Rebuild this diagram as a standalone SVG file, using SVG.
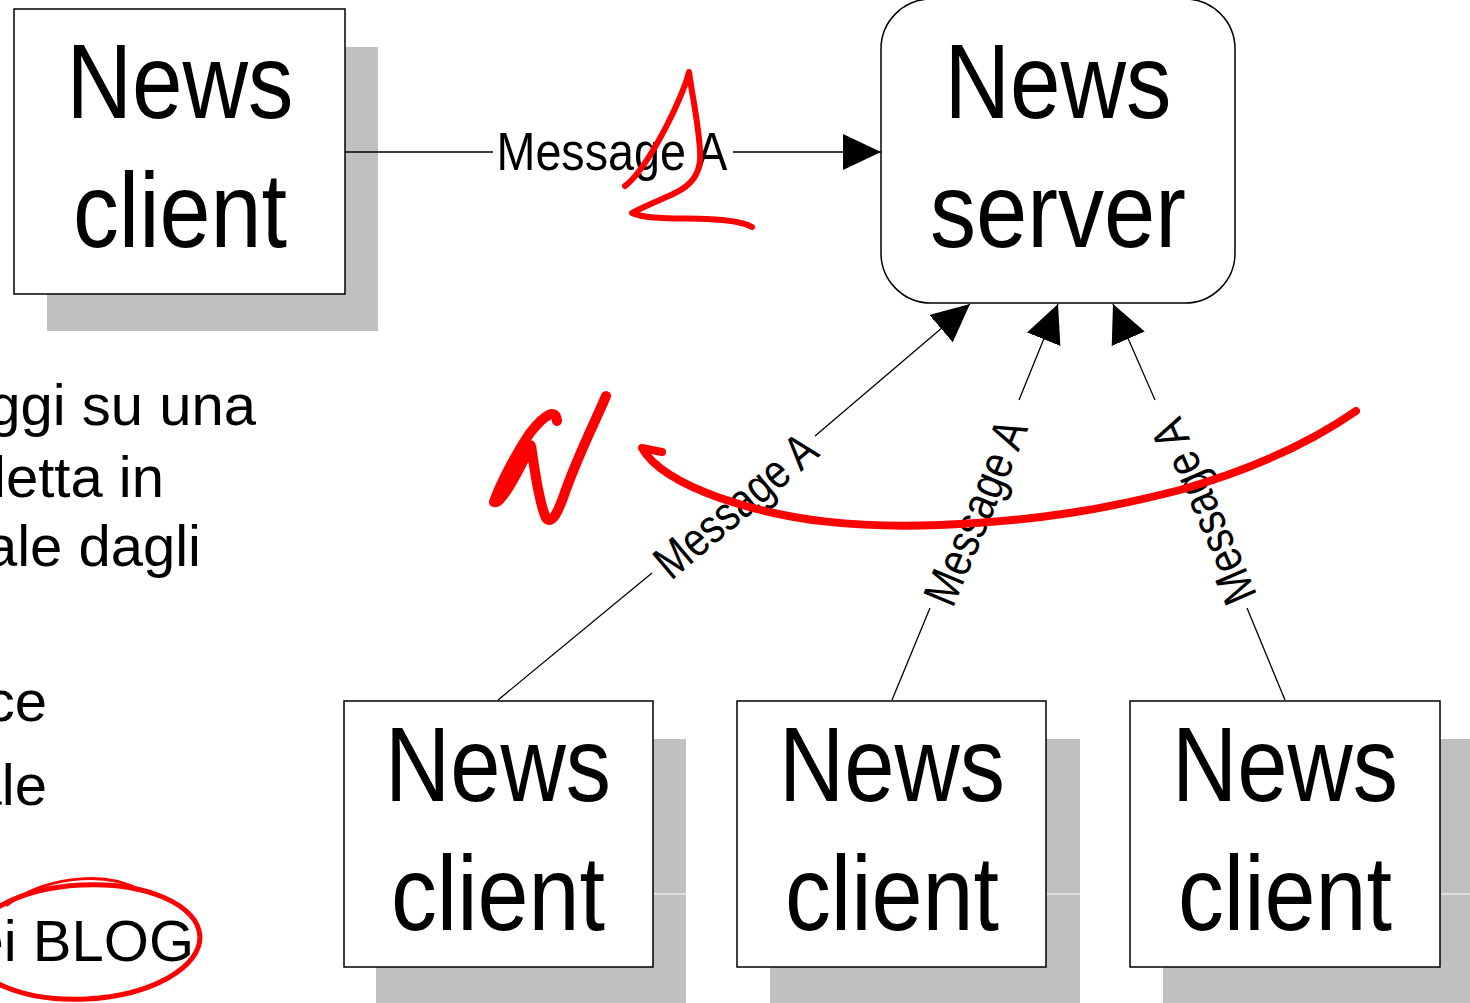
<svg xmlns="http://www.w3.org/2000/svg" width="1470" height="1003" viewBox="0 0 1470 1003">
  <defs>
    <style>
      .shadow { fill: #c0c0c0; }
      .box { fill: #ffffff; stroke: #000000; stroke-width: 1.5; }
      .big { font-family: "Liberation Sans", Arial, sans-serif; font-size: 106px; fill: #000; text-anchor: middle; }
      .lbl { font-family: "Liberation Sans", Arial, sans-serif; font-size: 53px; fill: #000; text-anchor: middle; }
      .rlbl { font-family: "Liberation Sans", Arial, sans-serif; font-size: 48px; fill: #000; text-anchor: middle; }
      .body { font-family: "Liberation Sans", Arial, sans-serif; font-size: 58px; fill: #000; text-anchor: end; }
      .edge { stroke: #000; stroke-width: 1.3; fill: none; }
      .ink { fill: none; stroke: #ff0000; stroke-linecap: round; stroke-linejoin: round; }
      .seam { stroke: #ffffff; stroke-width: 1; }
    </style>
    <marker id="arrow" markerUnits="userSpaceOnUse" markerWidth="42" markerHeight="40" refX="38" refY="18" orient="auto">
      <path d="M0,0 L38,18 L0,36 z" fill="#000"/>
    </marker>
  </defs>

  <rect width="1470" height="1003" fill="#ffffff"/>

  <!-- partially visible slide text on the left -->
  <g id="slide-text">
    <text class="body" x="256" y="425">ggi su una</text>
    <text class="body" x="164" y="497">letta in</text>
    <text class="body" x="201" y="566">ale dagli</text>
    <text class="body" x="47" y="721">ce</text>
    <text class="body" x="47" y="805">ale</text>
    <text class="body" x="194" y="961">ei BLOG</text>
  </g>

  <!-- news client (top left) -->
  <g id="client-top">
    <rect class="shadow" x="47" y="47" width="331" height="284"/>
    <rect class="box" x="14" y="9" width="331" height="285"/>
    <text class="big" x="180" y="118" textLength="227" lengthAdjust="spacingAndGlyphs">News</text>
    <text class="big" x="180" y="247" textLength="214" lengthAdjust="spacingAndGlyphs">client</text>
  </g>

  <!-- news server -->
  <g id="server">
    <rect class="box" x="881" y="-1" width="354" height="304" rx="50" ry="50"/>
    <text class="big" x="1058" y="118" textLength="227" lengthAdjust="spacingAndGlyphs">News</text>
    <text class="big" x="1058" y="247" textLength="256" lengthAdjust="spacingAndGlyphs">server</text>
  </g>

  <!-- news clients (bottom row) -->
  <g id="client-1">
    <rect class="shadow" x="376" y="739" width="310" height="270"/>
    <line class="seam" x1="654" y1="894" x2="686" y2="894"/>
    <rect class="box" x="344" y="701" width="309" height="266"/>
    <text class="big" x="498" y="801" textLength="226" lengthAdjust="spacingAndGlyphs">News</text>
    <text class="big" x="498" y="930" textLength="214" lengthAdjust="spacingAndGlyphs">client</text>
  </g>
  <g id="client-2">
    <rect class="shadow" x="770" y="739" width="310" height="270"/>
    <line class="seam" x1="1047" y1="894" x2="1080" y2="894"/>
    <rect class="box" x="737" y="701" width="309" height="266"/>
    <text class="big" x="892" y="801" textLength="226" lengthAdjust="spacingAndGlyphs">News</text>
    <text class="big" x="892" y="930" textLength="214" lengthAdjust="spacingAndGlyphs">client</text>
  </g>
  <g id="client-3">
    <rect class="shadow" x="1163" y="739" width="310" height="270"/>
    <line class="seam" x1="1441" y1="894" x2="1470" y2="894"/>
    <rect class="box" x="1130" y="701" width="310" height="266"/>
    <text class="big" x="1285" y="801" textLength="226" lengthAdjust="spacingAndGlyphs">News</text>
    <text class="big" x="1285" y="930" textLength="214" lengthAdjust="spacingAndGlyphs">client</text>
  </g>

  <!-- connectors, drawn over the node shadows -->
  <g id="connectors">
    <path class="edge" d="M345,152 H493 M733,152 H881" marker-end="url(#arrow)"/>
    <text class="lbl" x="612" y="170" textLength="231" lengthAdjust="spacingAndGlyphs">Message A</text>

    <path class="edge" d="M498,700 L652,573"/>
    <path class="edge" d="M815,436 L970,304" marker-end="url(#arrow)"/>
    <text class="rlbl" transform="translate(735,505) rotate(-40.1)" x="0" y="17" textLength="196" lengthAdjust="spacingAndGlyphs">Message A</text>

    <path class="edge" d="M892,700 L930,608"/>
    <path class="edge" d="M1019,400 L1058,304" marker-end="url(#arrow)"/>
    <text class="rlbl" transform="translate(975,512) rotate(-67.3)" x="0" y="17" textLength="196" lengthAdjust="spacingAndGlyphs">Message A</text>

    <path class="edge" d="M1285,700 L1247,608"/>
    <path class="edge" d="M1155,400 L1113,304" marker-end="url(#arrow)"/>
    <text class="rlbl" transform="translate(1203,512) rotate(-113.4)" x="0" y="17" textLength="196" lengthAdjust="spacingAndGlyphs">Message A</text>
  </g>

  <!-- red pen marks -->
  <g id="ink">
    <path class="ink" stroke-width="6" d="M625,186 C640,175 660,140 672,115 C680,98 686,85 689,72 C692,95 698,120 700,150 C702,172 693,185 673,194 C658,201 642,207 632,213 C645,219 672,218 707,219 C730,220 745,223 752,227"/>
    <path class="ink" stroke-width="10" d="M557,421 C556,408 545,414 530,433 C515,455 500,485 494,502 C500,505 515,478 526,455 C531,445 531,441 532,452 C536,480 540,505 546,518 C552,525 558,512 564,495 C578,455 596,420 606,396"/>
    <path class="ink" stroke-width="8" d="M662,452 L642,448 C652,466 675,482 720,498 C790,522 860,528 940,525 C1040,521 1110,508 1180,490 C1250,470 1310,443 1356,411"/>
    <ellipse class="ink" stroke-width="5" cx="84" cy="942" rx="116" ry="57" transform="rotate(-3 84 942)"/>
    <path class="ink" stroke-width="3" d="M7,905 C40,880 100,868 140,890"/>
  </g>
</svg>
